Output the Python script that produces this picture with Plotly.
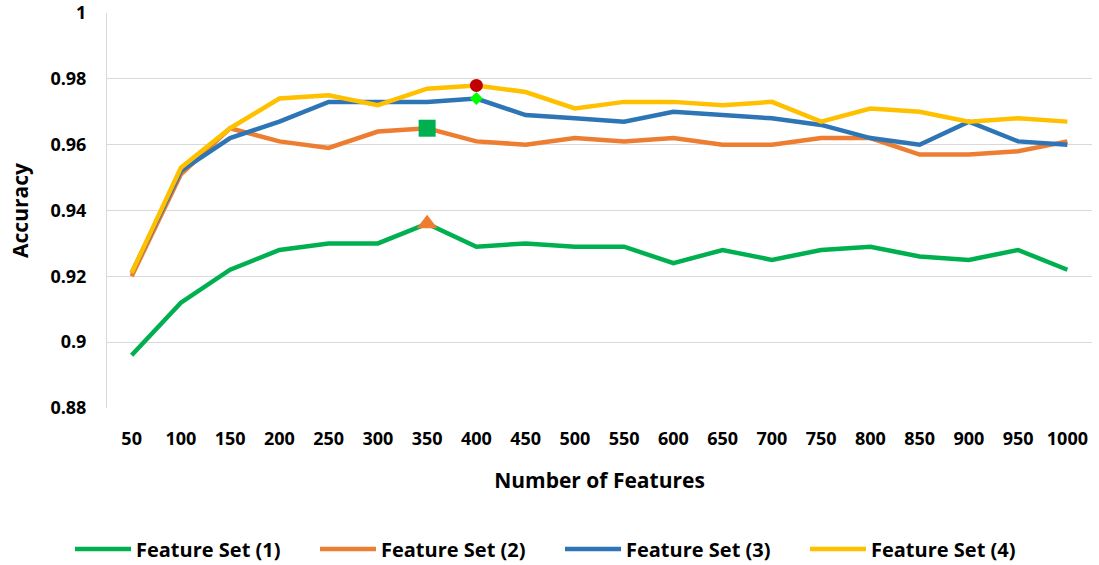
import plotly.graph_objects as go

features = [50, 100, 150, 200, 250, 300, 350, 400, 450, 500, 550, 600, 650, 700, 750, 800, 850, 900, 950, 1000]
fs1 = [0.896, 0.912, 0.922, 0.928, 0.930, 0.930, 0.936, 0.929, 0.930, 0.929, 0.929, 0.924, 0.928, 0.925, 0.928, 0.929, 0.926, 0.925, 0.928, 0.922]
fs2 = [0.920, 0.951, 0.965, 0.961, 0.959, 0.964, 0.965, 0.961, 0.960, 0.962, 0.961, 0.962, 0.960, 0.960, 0.962, 0.962, 0.957, 0.957, 0.958, 0.961]
fs3 = [0.921, 0.952, 0.962, 0.967, 0.973, 0.973, 0.973, 0.974, 0.969, 0.968, 0.967, 0.970, 0.969, 0.968, 0.966, 0.962, 0.960, 0.967, 0.961, 0.960]
fs4 = [0.921, 0.953, 0.965, 0.974, 0.975, 0.972, 0.977, 0.978, 0.976, 0.971, 0.973, 0.973, 0.972, 0.973, 0.967, 0.971, 0.970, 0.967, 0.968, 0.967]

series_names = ["Feature Set (1)", "Feature Set (2)", "Feature Set (3)", "Feature Set (4)"]
series_colors = ["#00B050", "#ED7D31", "#2E75B6", "#FFC000"]

# highlight markers
mk_x = ["350", "350", "400", "400"]
mk_y = [0.965, 0.936, 0.978, 0.974]
mk_symbols = ["square", "triangle-up", "circle", "diamond"]
mk_colors = ["#00B050", "#ED7D31", "#C00000", "#00FF00"]
mk_sizes = [17, 18, 13, 10]

cats = [str(f) for f in features]
FONT = "Open Sans"

fig = go.Figure()
for name, vals, col in zip(series_names, [fs1, fs2, fs3, fs4], series_colors):
    fig.add_trace(go.Scatter(x=cats, y=vals, mode="lines", name=name,
                             line=dict(color=col, width=4.5)))

for x, y, s, c, z in zip(mk_x, mk_y, mk_symbols, mk_colors, mk_sizes):
    fig.add_trace(go.Scatter(x=[x], y=[y], mode="markers", showlegend=False,
                             marker=dict(symbol=s, color=c, size=z, line=dict(width=0))))

fig.update_layout(
    width=1099, height=565,
    margin=dict(l=107, r=7, t=13, b=157, autoexpand=False),
    plot_bgcolor="white", paper_bgcolor="white",
    font=dict(family=FONT, size=18, color="black"),
    showlegend=True,
    legend=dict(orientation="h", xref="container", yref="container",
                x=70 / 1099, xanchor="left", y=1 - 549 / 565, yanchor="middle",
                font=dict(family=FONT, size=20, color="black", weight="bold"),
                entrywidthmode="pixels", entrywidth=174, itemwidth=56,
                tracegroupgap=0),
    xaxis=dict(type="category", automargin=False,
               title=dict(text="Number of Features", standoff=24,
                          font=dict(size=21, weight="bold")),
               tickfont=dict(size=18, weight="bold"), showgrid=False,
               showline=False, ticks="outside", ticklen=14, tickcolor="rgba(0,0,0,0)",
               range=[-0.5, 19.5]),
    yaxis=dict(range=[0.88, 1.0], dtick=0.02, tickformat="~g", automargin=False,
               title=dict(text="Accuracy", standoff=16, font=dict(size=21, weight="bold")),
               tickfont=dict(size=18, weight="bold"),
               showgrid=True, gridcolor="#D9D9D9", gridwidth=1,
               showline=True, linecolor="#D9D9D9", linewidth=1,
               zeroline=False, ticks="outside", ticklen=16, tickcolor="rgba(0,0,0,0)"),
)

fig.write_html("out.html", config={"displayModeBar": False},
               post_script="document.body.style.margin='0px';document.body.style.overflow='hidden';")
